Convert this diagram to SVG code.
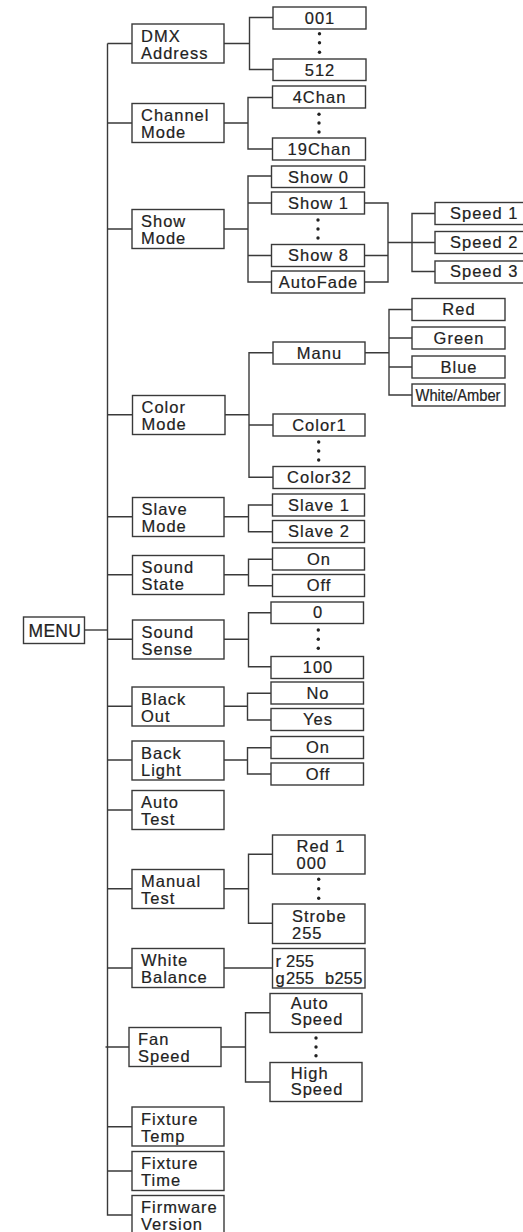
<svg xmlns="http://www.w3.org/2000/svg" width="523" height="1232" viewBox="0 0 523 1232">
<style>
.box{fill:#fff;stroke:#3a3a3a;stroke-width:1.4}
.t{font-family:"Liberation Sans",Arial,Helvetica,sans-serif;font-size:16.5px;letter-spacing:1px;fill:#222;stroke:#222;stroke-width:0.2}
.c{text-anchor:middle}
.ln{fill:none;stroke:#3a3a3a;stroke-width:1.4}
.dot{fill:#222}
</style>
<rect width="523" height="1232" fill="#fff"/>
<g id="connectors" class="ln">
<path d="M107.5 43.5V1215H132"/>
<path d="M84.5 630H107.5"/>
<path d="M107.5 43.5H132M107.5 123H132M107.5 229H132M107.5 414.7H132M107.5 516.7H132M107.5 574.7H132M107.5 639.3H132M107.5 706.3H132M107.5 760H132M107.5 810H132M107.5 888.7H132M107.5 968H132M105.5 1047H129M107.5 1126.7H132M107.5 1171H132"/>
<path d="M224 43.5H249.5M273 17.5H249.5V69.5H273"/>
<path d="M224 123H248M272.5 97.5H248V149H272.5"/>
<path d="M224 229H248M271.5 176H248V282H271.5M248 203H271.5M248 255.5H271.5"/>
<path d="M364.5 203H388V282H364.5M364.5 255.5H388M388 242.5H435M435 213.5H412V271.5H435"/>
<path d="M224 414.7H249M273 352.7H249V477.3H273M249 425H273"/>
<path d="M365 352.7H389M412 309.5H389V395H412M389 338H412M389 367H412"/>
<path d="M224 516.7H248.5M272.5 505H248.5V531.7H272.5"/>
<path d="M224 574.7H248.5M272.5 559.3H248.5V585.7H272.5"/>
<path d="M224 639.3H248.5M271 612.7H248.5V666.7H271"/>
<path d="M224 706.3H247.5M271 693.3H247.5V720H271"/>
<path d="M224 760H247.5M271 747.7H247.5V774H271"/>
<path d="M224 888.7H248.5M272.5 854.3H248.5V923.3H272.5"/>
<path d="M224 968H272.5"/>
<path d="M221 1047H245.5M270 1012.7H245.5V1082H270"/>
</g>
<g id="dots" class="dot">
<circle cx="319.5" cy="33.7" r="1.7"/><circle cx="319.5" cy="42.7" r="1.7"/><circle cx="319.5" cy="52.3" r="1.7"/>
<circle cx="319" cy="114.3" r="1.7"/><circle cx="319" cy="123" r="1.7"/><circle cx="319" cy="132" r="1.7"/>
<circle cx="318" cy="220" r="1.7"/><circle cx="318" cy="229" r="1.7"/><circle cx="318" cy="238" r="1.7"/>
<circle cx="318.7" cy="442" r="1.7"/><circle cx="318.7" cy="451" r="1.7"/><circle cx="318.7" cy="460" r="1.7"/>
<circle cx="318.3" cy="630" r="1.7"/><circle cx="318.3" cy="639.3" r="1.7"/><circle cx="318.3" cy="648.3" r="1.7"/>
<circle cx="318.7" cy="879.3" r="1.7"/><circle cx="318.7" cy="888.7" r="1.7"/><circle cx="318.7" cy="898.3" r="1.7"/>
<circle cx="316" cy="1038" r="1.7"/><circle cx="316" cy="1047" r="1.7"/><circle cx="316" cy="1055.7" r="1.7"/>
</g>
<g id="menu"><rect class="box" x="23.5" y="617" width="61" height="26.5"/><text class="t" x="28.5" y="636.7" style="font-size:17.5px;letter-spacing:0.3px">MENU</text></g>
<g id="dmx"><rect class="box" x="132" y="24" width="92" height="39"/><text class="t" x="141" y="41.5">DMX</text><text class="t" x="141" y="58.5">Address</text></g>
<g id="chan"><rect class="box" x="132" y="103.5" width="92" height="39"/><text class="t" x="141" y="121">Channel</text><text class="t" x="141" y="138">Mode</text></g>
<g id="show"><rect class="box" x="132" y="209.5" width="92" height="39"/><text class="t" x="141" y="227">Show</text><text class="t" x="141" y="244">Mode</text></g>
<g id="color"><rect class="box" x="132.5" y="395.5" width="92.5" height="39"/><text class="t" x="141.5" y="413">Color</text><text class="t" x="141.5" y="430">Mode</text></g>
<g id="slave"><rect class="box" x="132.5" y="497.5" width="91.5" height="39"/><text class="t" x="141.5" y="515">Slave</text><text class="t" x="141.5" y="532">Mode</text></g>
<g id="soundstate"><rect class="box" x="132.5" y="555.5" width="91.5" height="39"/><text class="t" x="141.5" y="573">Sound</text><text class="t" x="141.5" y="590">State</text></g>
<g id="soundsense"><rect class="box" x="132.5" y="620" width="91.5" height="39"/><text class="t" x="141.5" y="637.5">Sound</text><text class="t" x="141.5" y="654.5">Sense</text></g>
<g id="blackout"><rect class="box" x="132" y="687" width="92" height="39"/><text class="t" x="141" y="704.5">Black</text><text class="t" x="141" y="721.5">Out</text></g>
<g id="backlight"><rect class="box" x="132" y="741" width="92" height="39"/><text class="t" x="141" y="758.5">Back</text><text class="t" x="141" y="775.5">Light</text></g>
<g id="autotest"><rect class="box" x="132" y="790.5" width="92" height="39"/><text class="t" x="141" y="808">Auto</text><text class="t" x="141" y="825">Test</text></g>
<g id="manualtest"><rect class="box" x="132" y="869.5" width="92" height="39"/><text class="t" x="141" y="887">Manual</text><text class="t" x="141" y="904">Test</text></g>
<g id="whitebal"><rect class="box" x="132" y="948.5" width="92" height="39"/><text class="t" x="141" y="966">White</text><text class="t" x="141" y="983">Balance</text></g>
<g id="fanspeed"><rect class="box" x="129" y="1027.5" width="92" height="39"/><text class="t" x="138" y="1045">Fan</text><text class="t" x="138" y="1062">Speed</text></g>
<g id="fixtemp"><rect class="box" x="132" y="1107" width="92" height="39"/><text class="t" x="141" y="1124.5">Fixture</text><text class="t" x="141" y="1141.5">Temp</text></g>
<g id="fixtime"><rect class="box" x="132" y="1151.5" width="92" height="39"/><text class="t" x="141" y="1169">Fixture</text><text class="t" x="141" y="1186">Time</text></g>
<g id="firmware"><rect class="box" x="132" y="1195.5" width="92" height="42"/><text class="t" x="141" y="1213">Firmware</text><text class="t" x="141" y="1230">Version</text></g>
<g id="n001"><rect class="box" x="273" y="7" width="93" height="22"/><text class="t c" x="320" y="23.5">001</text></g>
<g id="n512"><rect class="box" x="273" y="59" width="93" height="21.5"/><text class="t c" x="320" y="75.5">512</text></g>
<g id="n4chan"><rect class="box" x="272.5" y="86" width="93" height="22"/><text class="t c" x="319.5" y="102.5">4Chan</text></g>
<g id="n19chan"><rect class="box" x="272.5" y="138" width="93" height="22"/><text class="t c" x="319.5" y="154.5">19Chan</text></g>
<g id="show0"><rect class="box" x="271.5" y="166" width="93" height="21.5"/><text class="t c" x="318.5" y="182.5">Show 0</text></g>
<g id="show1"><rect class="box" x="271.5" y="192" width="93" height="22"/><text class="t c" x="318.5" y="208.5">Show 1</text></g>
<g id="show8"><rect class="box" x="271.5" y="244.5" width="93" height="22"/><text class="t c" x="318.5" y="261">Show 8</text></g>
<g id="autofade"><rect class="box" x="271.5" y="271" width="93" height="22"/><text class="t c" x="318.5" y="287.5">AutoFade</text></g>
<g id="speed1"><rect class="box" x="435" y="202.5" width="95" height="22"/><text class="t" x="450" y="218.5">Speed 1</text></g>
<g id="speed2"><rect class="box" x="435" y="231.5" width="95" height="22"/><text class="t" x="450" y="247.5">Speed 2</text></g>
<g id="speed3"><rect class="box" x="435" y="261" width="95" height="22"/><text class="t" x="450" y="277">Speed 3</text></g>
<g id="manu"><rect class="box" x="273" y="342" width="92" height="22"/><text class="t c" x="319.5" y="358.5">Manu</text></g>
<g id="red"><rect class="box" x="412" y="298.5" width="93" height="22"/><text class="t c" x="459" y="315">Red</text></g>
<g id="green"><rect class="box" x="412" y="327" width="93" height="22"/><text class="t c" x="459" y="343.5">Green</text></g>
<g id="blue"><rect class="box" x="412" y="356" width="93" height="22"/><text class="t c" x="459" y="372.5">Blue</text></g>
<g id="whiteamber"><rect class="box" x="412" y="384" width="93" height="22"/><text class="t" x="415.5" y="400.5" style="letter-spacing:0" textLength="85" lengthAdjust="spacingAndGlyphs">White/Amber</text></g>
<g id="color1"><rect class="box" x="273" y="414" width="92" height="22"/><text class="t c" x="319.5" y="430.5">Color1</text></g>
<g id="color32"><rect class="box" x="273" y="466.5" width="92" height="22"/><text class="t c" x="319.5" y="483">Color32</text></g>
<g id="slave1"><rect class="box" x="272.5" y="494" width="92" height="22"/><text class="t c" x="319" y="510.5">Slave 1</text></g>
<g id="slave2"><rect class="box" x="272.5" y="520.5" width="92" height="22"/><text class="t c" x="319" y="537">Slave 2</text></g>
<g id="sson"><rect class="box" x="272.5" y="548" width="92" height="22"/><text class="t c" x="319" y="564.5">On</text></g>
<g id="ssoff"><rect class="box" x="272.5" y="574.5" width="92" height="22"/><text class="t c" x="319" y="591">Off</text></g>
<g id="n0"><rect class="box" x="271" y="602" width="92.5" height="21.5"/><text class="t c" x="318" y="618">0</text></g>
<g id="n100"><rect class="box" x="271" y="656.5" width="92.5" height="22"/><text class="t c" x="318" y="673">100</text></g>
<g id="no"><rect class="box" x="271" y="682" width="92.5" height="22"/><text class="t c" x="318" y="698.5">No</text></g>
<g id="yes"><rect class="box" x="271" y="708.5" width="92.5" height="22"/><text class="t c" x="318" y="725">Yes</text></g>
<g id="blon"><rect class="box" x="271" y="736.5" width="92.5" height="22"/><text class="t c" x="318" y="753">On</text></g>
<g id="bloff"><rect class="box" x="271" y="763" width="92.5" height="22"/><text class="t c" x="318" y="779.5">Off</text></g>
<g id="red1"><rect class="box" x="272.5" y="835" width="92.5" height="39"/><text class="t" x="296.5" y="851.7">Red 1</text><text class="t" x="296.5" y="869.3">000</text></g>
<g id="strobe"><rect class="box" x="272.5" y="904" width="92.5" height="39.5"/><text class="t" x="292" y="921.7">Strobe</text><text class="t" x="292" y="938.7">255</text></g>
<g id="rgb"><rect class="box" x="272.5" y="948.5" width="92.5" height="39.5"/><text class="t" y="966.7" style="letter-spacing:0.2px"><tspan x="275.5">r</tspan><tspan x="286">255</tspan></text><text class="t" y="984" style="letter-spacing:0.2px"><tspan x="275.5">g</tspan><tspan x="286">255</tspan><tspan x="325">b255</tspan></text></g>
<g id="autospeed"><rect class="box" x="270" y="993.5" width="92" height="39"/><text class="t" x="290.7" y="1008.5">Auto</text><text class="t" x="290.7" y="1025">Speed</text></g>
<g id="highspeed"><rect class="box" x="270" y="1062.5" width="92" height="39"/><text class="t" x="290.7" y="1078.5">High</text><text class="t" x="290.7" y="1095">Speed</text></g>
</svg>
